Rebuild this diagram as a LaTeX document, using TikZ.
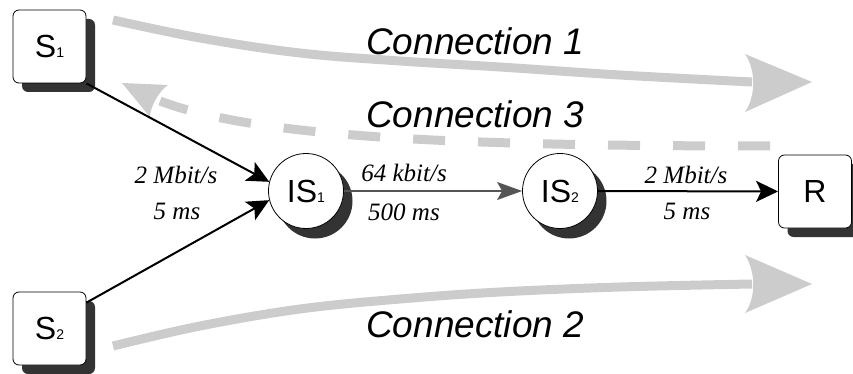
\documentclass[tikz,border=0pt]{standalone}
\usepackage{fontspec}
\setmainfont{Liberation Sans}
\newfontfamily\serifit{Liberation Serif}
\usetikzlibrary{arrows.meta,shadows}

\definecolor{flowgray}{HTML}{CCCCCC}
\definecolor{shadowgray}{HTML}{333333}
\definecolor{linkgray}{HTML}{555555}

% small index set on the baseline, as in S1, IS1
\newcommand\lowidx[1]{{\fontsize{14}{14}\selectfont #1}}

\begin{document}
\begin{tikzpicture}[x=1pt,y=-1pt,
  nodefont/.style={font=\fontsize{32}{32}\selectfont},
  box/.style={draw=black, line width=0.8pt, fill=white, rounded corners=6pt,
    minimum width=73pt, minimum height=73pt, inner sep=0pt, nodefont,
    drop shadow={shadow xshift=9pt, shadow yshift=-9pt, fill=shadowgray, opacity=1}},
  hub/.style={draw=black, line width=0.8pt, fill=white, circle,
    minimum size=75pt, inner sep=0pt, nodefont,
    drop shadow={shadow xshift=9pt, shadow yshift=-10pt, fill=shadowgray, opacity=1}},
  link/.style={line width=2pt, -{Stealth[length=22pt,width=21pt,inset=5pt]}},
  slowlink/.style={line width=1.5pt, draw=linkgray,
    -{Stealth[length=25pt,width=18pt,inset=5pt,fill=linkgray]}},
  rate/.style={font=\serifit\itshape\fontsize{25}{25}\selectfont, anchor=base, inner sep=0pt},
  flowlabel/.style={font=\itshape\fontsize{37}{37}\selectfont, anchor=base west, inner sep=0pt},
  flow/.style={draw=flowgray, line width=9pt},
  flowhead/.style={fill=flowgray}
]
\useasboundingbox (0,0) rectangle (853,374);

% wide grey flows, drawn beneath everything else
\draw[flow] plot[smooth, tension=0.6] coordinates
  {(113,20) (200,38) (300,53) (400,61) (500,67) (620,75) (752,82)};
\fill[flowhead] (812,82) -- (745,54) .. controls (756,70) and (756,96) .. (745,112) -- cycle;

\draw[flow] plot[smooth, tension=0.6] coordinates
  {(113,346) (200,326) (300,309) (400,299) (500,292) (620,287) (752,284)};
\fill[flowhead] (812,284) -- (745,255) .. controls (756,272) and (756,298) .. (745,313) -- cycle;

\draw[flow, dash pattern=on 32pt off 33pt]
  (770,146) .. controls (450,146) and (255,137) .. (160,101);
\fill[flowhead] (122,83) -- (168,85) .. controls (159,91) and (150,107) .. (150,117) -- cycle;

\node[flowlabel] (c1) at (366,55) {Connection 1};
\node[flowlabel] (c3) at (366,128) {Connection 3};
\node[flowlabel] (c2) at (366,337) {Connection 2};

% hosts and intermediate systems
\node[box] (S1) at (49.5,46.5) {S\lowidx{1}};
\node[box] (S2) at (49.5,328.5) {S\lowidx{2}};
\node[hub] (IS1) at (306,191) {IS\lowidx{1}};
\node[hub] (IS2) at (560,191) {IS\lowidx{2}};
\node[box] (R) at (815,191.5) {R};

% links
\draw[link] (S1.south east) -- (IS1.166);
\draw[link] (S2.35) -- (IS1.194);
\draw[slowlink] (IS1) -- (IS2);
\draw[link] (IS2) -- (R);

% link parameters
\node[rate] (r1a) at (176,183) {2 Mbit/s};
\node[rate] (r1b) at (177,219) {5 ms};
\node[rate] (r2a) at (404,182) {64 kbit/s};
\node[rate] (r2b) at (404,220) {500 ms};
\node[rate] (r3a) at (686,183) {2 Mbit/s};
\node[rate] (r3b) at (687,219) {5 ms};
\end{tikzpicture}
\end{document}
